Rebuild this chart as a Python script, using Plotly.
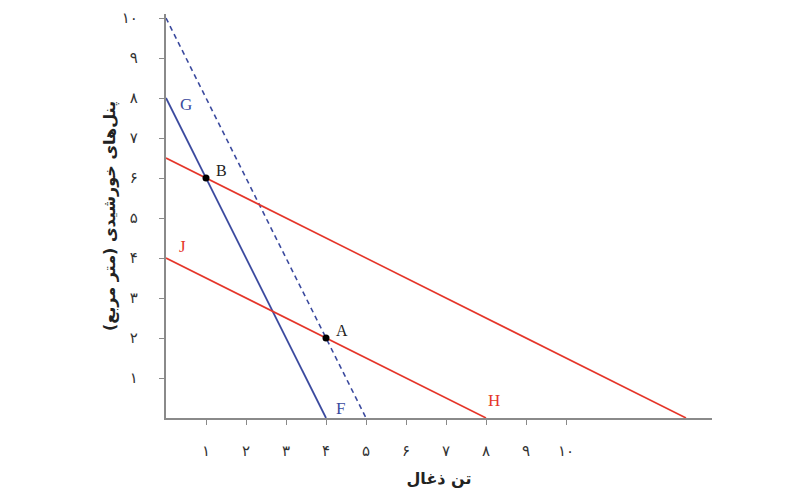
import plotly.graph_objects as go

# Data
blue_solid_x = [0, 4]
blue_solid_y = [8, 0]
blue_dash_x = [0, 5]
blue_dash_y = [10, 0]
red_upper_x = [0, 13]
red_upper_y = [6.5, 0]
red_lower_x = [0, 8]
red_lower_y = [4, 0]
points_x = [4, 1]
points_y = [2, 6]
point_names = ["A", "B"]
line_labels = ["G", "F", "J", "H"]
line_label_x = [0.5, 4.35, 0.42, 8.2]
line_label_y = [7.85, 0.25, 4.3, 0.45]
line_label_colors = ["#3b4a9e", "#3b4a9e", "#e5362a", "#e5362a"]
tick_vals = [1, 2, 3, 4, 5, 6, 7, 8, 9, 10]
tick_text = ["۱", "۲", "۳", "۴", "۵", "۶", "۷", "۸", "۹", "۱۰"]

BLUE = "#3b4a9e"
RED = "#e5362a"

fig = go.Figure()
fig.add_trace(go.Scatter(x=blue_dash_x, y=blue_dash_y, mode="lines",
                         line=dict(color=BLUE, width=1.6, dash="5px,4px"), hoverinfo="skip"))
fig.add_trace(go.Scatter(x=blue_solid_x, y=blue_solid_y, mode="lines",
                         line=dict(color=BLUE, width=1.8), hoverinfo="skip"))
fig.add_trace(go.Scatter(x=red_upper_x, y=red_upper_y, mode="lines",
                         line=dict(color=RED, width=1.6), hoverinfo="skip"))
fig.add_trace(go.Scatter(x=red_lower_x, y=red_lower_y, mode="lines",
                         line=dict(color=RED, width=1.6), hoverinfo="skip"))
fig.add_trace(go.Scatter(x=points_x, y=points_y, mode="markers",
                         marker=dict(color="black", size=7), hoverinfo="skip"))

for name, px, py in zip(point_names, points_x, points_y):
    fig.add_annotation(x=px, y=py, text=name, showarrow=False, xanchor="left", yanchor="bottom",
                       xshift=8, yshift=-3,
                       font=dict(family="Liberation Serif, DejaVu Serif, serif", size=16, color="#222"))

for name, lx, ly, c in zip(line_labels, line_label_x, line_label_y, line_label_colors):
    fig.add_annotation(x=lx, y=ly, text=name, showarrow=False, xanchor="center", yanchor="middle",
                       font=dict(family="Liberation Serif, DejaVu Serif, serif", size=17, color=c))

axis_common = dict(
    showline=True, linecolor="#8a8a8a", linewidth=2.2,
    showgrid=False, zeroline=False, automargin=False,
    ticks="outside", ticklen=5, tickwidth=1.2, tickcolor="#8a8a8a",
    tickvals=tick_vals, ticktext=tick_text,
    tickfont=dict(family="DejaVu Sans, Noto Sans, sans-serif", size=15, color="#333"),
)

fig.update_xaxes(range=[0, 13.65], ticklabelstandoff=13,
                 title=dict(text="<b>تن ذغال</b>", standoff=14,
                            font=dict(family="DejaVu Sans, sans-serif", size=16, color="#222")),
                 **axis_common)
fig.update_yaxes(range=[0, 10.1], ticklabelstandoff=18,
                 title=dict(text="<b>پنل‌های خورشیدی (متر مربع)</b>", standoff=2,
                            font=dict(family="DejaVu Sans, sans-serif", size=16, color="#222")),
                 **axis_common)

fig.update_layout(
    width=810, height=501,
    margin=dict(l=158, r=106, t=6, b=91),
    plot_bgcolor="white", paper_bgcolor="white",
    showlegend=False,
)

fig.write_html("out.html")
